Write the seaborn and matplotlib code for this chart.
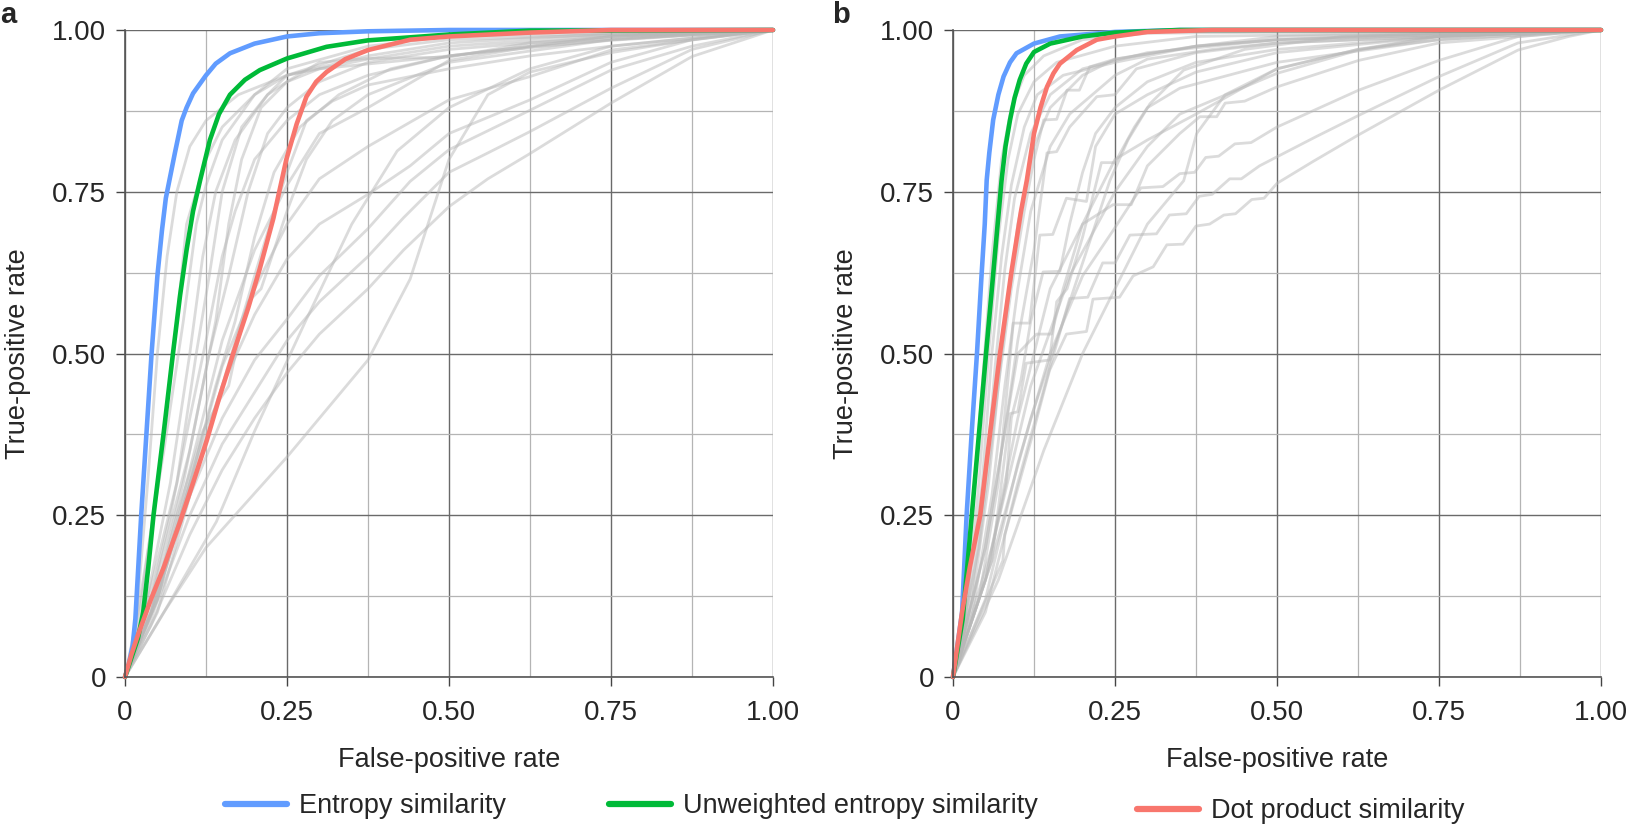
import numpy as np
import pandas as pd
import matplotlib
matplotlib.use("Agg")
import matplotlib.pyplot as plt
from matplotlib.lines import Line2D
import seaborn as sns

# ---- data (fpr, tpr) ----
methods = ["Entropy similarity", "Unweighted entropy similarity", "Dot product similarity"]
method_colors = ["#619CFF", "#00BA38", "#F8766D"]

# panel a, highlighted curves
entropy_a_fpr = [0, 0.006, 0.012, 0.016, 0.025, 0.033, 0.041, 0.05, 0.057, 0.063, 0.069, 0.077, 0.0875, 0.095, 0.105, 0.125, 0.14, 0.162, 0.2, 0.25, 0.3, 0.375, 0.5, 1.0]
entropy_a_tpr = [0, 0.02, 0.05, 0.09, 0.25, 0.375, 0.5, 0.62, 0.69, 0.74, 0.77, 0.81, 0.86, 0.88, 0.902, 0.93, 0.948, 0.964, 0.979, 0.99, 0.995, 0.998, 1.0, 1.0]
unweighted_a_fpr = [0, 0.01, 0.02, 0.028, 0.036, 0.044, 0.06, 0.074, 0.085, 0.095, 0.105, 0.116, 0.131, 0.145, 0.162, 0.185, 0.208, 0.25, 0.311, 0.375, 0.5, 0.625, 1.0]
unweighted_a_tpr = [0, 0.03, 0.06, 0.1, 0.17, 0.25, 0.38, 0.5, 0.59, 0.66, 0.72, 0.768, 0.83, 0.87, 0.9, 0.923, 0.938, 0.956, 0.974, 0.984, 0.993, 0.999, 1.0]
dot_a_fpr = [0, 0.01, 0.02, 0.04, 0.06, 0.085, 0.105, 0.126, 0.145, 0.167, 0.19, 0.208, 0.229, 0.249, 0.265, 0.28, 0.295, 0.311, 0.34, 0.375, 0.44, 0.5, 0.625, 0.75, 1.0]
dot_a_tpr = [0, 0.035, 0.065, 0.12, 0.17, 0.24, 0.3, 0.365, 0.43, 0.5, 0.57, 0.631, 0.709, 0.8, 0.855, 0.897, 0.92, 0.935, 0.955, 0.969, 0.985, 0.99, 0.996, 1.0, 1.0]

# panel b, highlighted curves
entropy_b_fpr = [0, 0.014, 0.021, 0.029, 0.037, 0.044, 0.049, 0.052, 0.056, 0.062, 0.07, 0.078, 0.088, 0.098, 0.125, 0.165, 0.25, 0.35, 1.0]
entropy_b_tpr = [0, 0.1, 0.25, 0.38, 0.5, 0.62, 0.7, 0.768, 0.81, 0.861, 0.9, 0.928, 0.95, 0.964, 0.979, 0.99, 0.997, 1.0, 1.0]
unweighted_b_fpr = [0, 0.015, 0.029, 0.04, 0.051, 0.06, 0.068, 0.075, 0.081, 0.088, 0.095, 0.103, 0.113, 0.125, 0.15, 0.2, 0.25, 0.35, 1.0]
unweighted_b_tpr = [0, 0.09, 0.25, 0.375, 0.5, 0.6, 0.69, 0.768, 0.82, 0.861, 0.895, 0.923, 0.948, 0.966, 0.979, 0.99, 0.996, 1.0, 1.0]
dot_b_fpr = [0, 0.014, 0.026, 0.042, 0.057, 0.0725, 0.09, 0.105, 0.114, 0.125, 0.135, 0.145, 0.155, 0.165, 0.191, 0.222, 0.25, 0.3, 0.4, 1.0]
dot_b_tpr = [0, 0.1, 0.17, 0.25, 0.375, 0.5, 0.625, 0.72, 0.768, 0.84, 0.88, 0.912, 0.933, 0.948, 0.969, 0.985, 0.99, 0.997, 1.0, 1.0]

# other similarity measures (grey), panel a
grey_a = [
    [(0, 0), (0.015, 0.06), (0.035, 0.3), (0.05, 0.5), (0.065, 0.65), (0.08, 0.75), (0.1, 0.82), (0.125, 0.86), (0.175, 0.9), (0.25, 0.93), (0.375, 0.955), (0.5, 0.975), (0.75, 0.992), (1, 1)],
    [(0, 0), (0.02, 0.08), (0.05, 0.3), (0.075, 0.5), (0.095, 0.7), (0.125, 0.8), (0.15, 0.85), (0.2, 0.9), (0.25, 0.93), (0.375, 0.96), (0.5, 0.98), (0.75, 0.995), (1, 1)],
    [(0, 0), (0.02, 0.1), (0.06, 0.35), (0.09, 0.55), (0.11, 0.7), (0.125, 0.76), (0.15, 0.83), (0.2, 0.9), (0.25, 0.94), (0.375, 0.975), (0.5, 0.99), (1, 1)],
    [(0, 0), (0.03, 0.1), (0.07, 0.3), (0.1, 0.5), (0.12, 0.65), (0.14, 0.75), (0.17, 0.83), (0.22, 0.9), (0.25, 0.92), (0.3, 0.94), (0.5, 0.96), (0.75, 0.985), (1, 1)],
    [(0, 0), (0.03, 0.1), (0.08, 0.3), (0.11, 0.5), (0.13, 0.62), (0.15, 0.75), (0.18, 0.85), (0.22, 0.9), (0.25, 0.93), (0.375, 0.97), (0.5, 0.985), (1, 1)],
    [(0, 0), (0.04, 0.1), (0.09, 0.3), (0.12, 0.45), (0.14, 0.55), (0.16, 0.7), (0.18, 0.8), (0.21, 0.88), (0.25, 0.92), (0.3, 0.95), (0.375, 0.956), (0.5, 0.958), (0.625, 0.98), (1, 1)],
    [(0, 0), (0.04, 0.12), (0.1, 0.35), (0.13, 0.5), (0.16, 0.62), (0.19, 0.75), (0.22, 0.84), (0.25, 0.88), (0.3, 0.92), (0.375, 0.95), (0.5, 0.97), (0.75, 0.99), (1, 1)],
    [(0, 0), (0.05, 0.12), (0.1, 0.3), (0.14, 0.45), (0.17, 0.55), (0.2, 0.68), (0.23, 0.78), (0.27, 0.85), (0.33, 0.9), (0.41, 0.94), (0.5, 0.96), (0.75, 0.99), (1, 1)],
    [(0, 0), (0.04, 0.1), (0.08, 0.25), (0.12, 0.38), (0.147, 0.43), (0.16, 0.45), (0.175, 0.52), (0.19, 0.58), (0.21, 0.6), (0.23, 0.66), (0.25, 0.72), (0.28, 0.8), (0.32, 0.86), (0.375, 0.9), (0.5, 0.95), (0.75, 0.985), (1, 1)],
    [(0, 0), (0.03, 0.08), (0.07, 0.25), (0.1, 0.4), (0.125, 0.52), (0.15, 0.65), (0.17, 0.72), (0.2, 0.8), (0.25, 0.86), (0.3, 0.9), (0.375, 0.93), (0.5, 0.96), (0.75, 0.99), (1, 1)],
    [(0, 0), (0.05, 0.1), (0.1, 0.28), (0.15, 0.45), (0.2, 0.62), (0.23, 0.72), (0.25, 0.78), (0.28, 0.86), (0.32, 0.89), (0.375, 0.915), (0.5, 0.94), (0.625, 0.96), (0.75, 0.975), (1, 1)],
    [(0, 0), (0.04, 0.08), (0.1, 0.22), (0.15, 0.32), (0.2, 0.4), (0.25, 0.47), (0.3, 0.53), (0.375, 0.6), (0.43, 0.66), (0.5, 0.727), (0.56, 0.77), (0.625, 0.809), (0.75, 0.887), (0.875, 0.959), (1, 1)],
    [(0, 0), (0.04, 0.09), (0.1, 0.25), (0.15, 0.36), (0.2, 0.44), (0.25, 0.52), (0.3, 0.58), (0.375, 0.65), (0.43, 0.71), (0.5, 0.78), (0.56, 0.81), (0.625, 0.843), (0.75, 0.91), (0.875, 0.97), (1, 1)],
    [(0, 0), (0.04, 0.1), (0.1, 0.28), (0.15, 0.4), (0.2, 0.49), (0.25, 0.553), (0.3, 0.62), (0.375, 0.693), (0.44, 0.766), (0.5, 0.815), (0.625, 0.876), (0.75, 0.938), (0.875, 0.975), (1, 1)],
    [(0, 0), (0.04, 0.1), (0.1, 0.3), (0.15, 0.45), (0.2, 0.56), (0.25, 0.646), (0.3, 0.7), (0.375, 0.746), (0.44, 0.79), (0.5, 0.84), (0.625, 0.892), (0.75, 0.95), (0.875, 0.985), (1, 1)],
    [(0, 0), (0.05, 0.12), (0.1, 0.3), (0.15, 0.48), (0.2, 0.6), (0.25, 0.7), (0.3, 0.77), (0.375, 0.82), (0.5, 0.892), (0.625, 0.928), (0.75, 0.969), (1, 1)],
    [(0, 0), (0.05, 0.12), (0.1, 0.32), (0.15, 0.52), (0.2, 0.66), (0.25, 0.76), (0.3, 0.84), (0.375, 0.88), (0.5, 0.953), (0.625, 0.974), (0.75, 0.984), (1, 1)],
    [(0, 0), (0.06, 0.1), (0.125, 0.2), (0.25, 0.34), (0.375, 0.49), (0.44, 0.615), (0.5, 0.8), (0.56, 0.9), (0.625, 0.935), (0.75, 0.965), (0.875, 0.985), (1, 1)],
    [(0, 0), (0.06, 0.1), (0.141, 0.24), (0.2, 0.38), (0.28, 0.553), (0.35, 0.7), (0.42, 0.813), (0.5, 0.88), (0.625, 0.94), (0.75, 0.975), (1, 1)],
]

# other similarity measures (grey), panel b
grey_b = [
    [(0, 0), (0.015, 0.08), (0.03, 0.25), (0.045, 0.45), (0.06, 0.65), (0.075, 0.8), (0.09, 0.88), (0.11, 0.93), (0.14, 0.96), (0.2, 0.985), (0.3, 0.995), (1, 1)],
    [(0, 0), (0.02, 0.1), (0.04, 0.3), (0.055, 0.5), (0.07, 0.68), (0.085, 0.8), (0.1, 0.87), (0.125, 0.92), (0.16, 0.95), (0.25, 0.975), (0.375, 0.99), (1, 1)],
    [(0, 0), (0.02, 0.09), (0.045, 0.3), (0.06, 0.5), (0.075, 0.65), (0.09, 0.76), (0.11, 0.85), (0.13, 0.9), (0.17, 0.93), (0.25, 0.95), (0.375, 0.975), (0.5, 0.99), (1, 1)],
    [(0, 0), (0.025, 0.1), (0.05, 0.3), (0.065, 0.48), (0.08, 0.63), (0.095, 0.74), (0.12, 0.84), (0.15, 0.9), (0.2, 0.94), (0.3, 0.965), (0.5, 0.985), (1, 1)],
    [(0, 0), (0.03, 0.12), (0.055, 0.3), (0.075, 0.5), (0.1, 0.7), (0.125, 0.82), (0.15, 0.88), (0.2, 0.93), (0.25, 0.955), (0.375, 0.975), (0.5, 0.985), (0.75, 0.995), (1, 1)],
    [(0, 0), (0.03, 0.1), (0.06, 0.28), (0.08, 0.45), (0.1, 0.6), (0.12, 0.72), (0.15, 0.82), (0.18, 0.87), (0.25, 0.93), (0.3, 0.955), (0.4, 0.97), (0.5, 0.98), (1, 1)],
    [(0, 0), (0.05, 0.15), (0.082, 0.3), (0.09, 0.4), (0.105, 0.46), (0.12, 0.55), (0.139, 0.626), (0.165, 0.627), (0.18, 0.7), (0.2, 0.78), (0.22, 0.84), (0.25, 0.88), (0.3, 0.92), (0.375, 0.95), (0.5, 0.97), (0.75, 0.99), (1, 1)],
    [(0, 0), (0.04, 0.12), (0.07, 0.3), (0.093, 0.547), (0.118, 0.547), (0.134, 0.683), (0.154, 0.684), (0.175, 0.74), (0.206, 0.735), (0.22, 0.82), (0.25, 0.87), (0.3, 0.9), (0.375, 0.935), (0.5, 0.965), (0.75, 0.99), (1, 1)],
    [(0, 0), (0.06, 0.18), (0.088, 0.407), (0.1, 0.41), (0.113, 0.485), (0.149, 0.49), (0.16, 0.58), (0.176, 0.6), (0.2, 0.68), (0.229, 0.795), (0.25, 0.795), (0.28, 0.85), (0.3, 0.88), (0.35, 0.91), (0.5, 0.95), (0.75, 0.985), (1, 1)],
    [(0, 0), (0.05, 0.2), (0.08, 0.38), (0.1, 0.5), (0.129, 0.53), (0.152, 0.53), (0.17, 0.6), (0.2, 0.7), (0.23, 0.76), (0.25, 0.8), (0.3, 0.83), (0.375, 0.87), (0.5, 0.94), (0.625, 0.97), (0.75, 0.985), (1, 1)],
    [(0, 0), (0.04, 0.2), (0.07, 0.45), (0.09, 0.6), (0.11, 0.72), (0.125, 0.8), (0.14, 0.861), (0.16, 0.862), (0.176, 0.907), (0.195, 0.907), (0.211, 0.943), (0.25, 0.955), (0.375, 0.975), (0.5, 0.985), (1, 1)],
    [(0, 0), (0.05, 0.2), (0.08, 0.38), (0.1, 0.52), (0.125, 0.66), (0.145, 0.81), (0.16, 0.812), (0.18, 0.85), (0.222, 0.897), (0.25, 0.9), (0.283, 0.94), (0.375, 0.965), (0.5, 0.98), (1, 1)],
    [(0, 0), (0.06, 0.18), (0.12, 0.4), (0.17, 0.55), (0.21, 0.67), (0.242, 0.767), (0.27, 0.83), (0.304, 0.886), (0.356, 0.938), (0.45, 0.97), (0.6, 0.99), (1, 1)],
    [(0, 0), (0.07, 0.15), (0.14, 0.35), (0.2, 0.5), (0.25, 0.6), (0.3, 0.7), (0.356, 0.767), (0.376, 0.84), (0.42, 0.9), (0.5, 0.94), (0.625, 0.97), (0.75, 0.99), (1, 1)],
    [(0, 0), (0.077, 0.18), (0.08, 0.22), (0.123, 0.375), (0.149, 0.474), (0.175, 0.53), (0.206, 0.534), (0.216, 0.584), (0.257, 0.587), (0.278, 0.62), (0.309, 0.634), (0.33, 0.668), (0.355, 0.669), (0.375, 0.697), (0.396, 0.7), (0.418, 0.714), (0.436, 0.716), (0.461, 0.738), (0.48, 0.74), (0.5, 0.763), (0.556, 0.797), (0.626, 0.838), (0.75, 0.907), (0.872, 0.969), (0.95, 0.99), (1, 1)],
    [(0, 0), (0.05, 0.1), (0.1, 0.3), (0.15, 0.48), (0.18, 0.585), (0.208, 0.587), (0.231, 0.64), (0.25, 0.64), (0.273, 0.683), (0.314, 0.685), (0.334, 0.714), (0.36, 0.716), (0.38, 0.743), (0.4, 0.746), (0.427, 0.77), (0.445, 0.77), (0.473, 0.79), (0.5, 0.804), (0.56, 0.835), (0.626, 0.868), (0.75, 0.928), (0.872, 0.98), (1, 1)],
    [(0, 0), (0.05, 0.12), (0.1, 0.33), (0.15, 0.5), (0.2, 0.62), (0.247, 0.69), (0.29, 0.756), (0.324, 0.758), (0.35, 0.778), (0.373, 0.78), (0.39, 0.803), (0.41, 0.805), (0.435, 0.824), (0.46, 0.826), (0.5, 0.85), (0.626, 0.907), (0.75, 0.953), (0.872, 0.99), (1, 1)],
    [(0, 0), (0.05, 0.15), (0.1, 0.4), (0.15, 0.6), (0.2, 0.7), (0.247, 0.73), (0.275, 0.73), (0.3, 0.79), (0.35, 0.84), (0.381, 0.866), (0.407, 0.866), (0.42, 0.887), (0.45, 0.89), (0.5, 0.912), (0.626, 0.953), (0.75, 0.98), (1, 1)],
    [(0, 0), (0.06, 0.2), (0.12, 0.45), (0.18, 0.62), (0.25, 0.75), (0.3, 0.82), (0.35, 0.87), (0.5, 0.933), (0.626, 0.969), (0.75, 0.99), (1, 1)],
]

tick_values = [0, 0.25, 0.5, 0.75, 1.0]
tick_labels = ["0", "0.25", "0.50", "0.75", "1.00"]


def grey_frame(curves):
    rows = [(i, x, y) for i, c in enumerate(curves) for x, y in c]
    return pd.DataFrame(rows, columns=["curve", "fpr", "tpr"])


def main_frame(fprs, tprs):
    parts = [pd.DataFrame({"method": m, "fpr": f, "tpr": t}) for m, f, t in zip(methods, fprs, tprs)]
    return pd.concat(parts, ignore_index=True)


sns.set_style("white")
plt.rcParams["font.family"] = ["Liberation Sans", "DejaVu Sans"]

fig = plt.figure(figsize=(16.27, 8.27), dpi=100)
ax_a = fig.add_axes([125 / 1627, 1 - 677 / 827, 648 / 1627, 647 / 827])
ax_b = fig.add_axes([953 / 1627, 1 - 677 / 827, 648 / 1627, 647 / 827])

panels = [
    (ax_a, grey_a, [entropy_a_fpr, unweighted_a_fpr, dot_a_fpr], [entropy_a_tpr, unweighted_a_tpr, dot_a_tpr]),
    (ax_b, grey_b, [entropy_b_fpr, unweighted_b_fpr, dot_b_fpr], [entropy_b_tpr, unweighted_b_tpr, dot_b_tpr]),
]

for ax, grey, fprs, tprs in panels:
    ax.set_axisbelow(True)
    sns.lineplot(data=grey_frame(grey), x="fpr", y="tpr", units="curve", estimator=None,
                 sort=False, color="#b8b8b8", alpha=0.5, lw=2.0, ax=ax, legend=False)
    sns.lineplot(data=main_frame(fprs, tprs), x="fpr", y="tpr", hue="method", hue_order=methods,
                 palette=method_colors, estimator=None, sort=False, lw=3.3, ax=ax, legend=False)
    for ln in ax.lines:
        ln.set_clip_on(False)
        ln.set_solid_joinstyle("round")

    ax.set_xlim(0, 1)
    ax.set_ylim(0, 1)
    ax.set_xticks(tick_values)
    ax.set_xticklabels(tick_labels)
    ax.set_yticks(tick_values)
    ax.set_yticklabels(tick_labels)
    ax.set_xticks(np.arange(0.125, 1, 0.25), minor=True)
    ax.set_yticks(np.arange(0.125, 1, 0.25), minor=True)
    ax.grid(which="major", color="#6a6a6a", lw=1.0)
    ax.grid(which="minor", color="#b4b4b4", lw=0.9)
    for side in ["top", "right"]:
        ax.spines[side].set_visible(False)
    for side in ["left", "bottom"]:
        ax.spines[side].set_color("#555555")
        ax.spines[side].set_linewidth(1.2)
    ax.tick_params(which="major", direction="out", length=6.5, width=1, color="#444444",
                   labelsize=20, left=True, bottom=True)
    ax.tick_params(axis="y", pad=7)
    ax.tick_params(axis="x", pad=10)
    ax.tick_params(which="minor", length=0)
    ax.set_xlabel("False-positive rate", fontsize=19.5, labelpad=15)
    ax.set_ylabel("True-positive rate", fontsize=19.5, labelpad=15)

fig.text(0.0, 1 - 23 / 827, "a", fontsize=21, fontweight="bold", va="baseline")
fig.text(832 / 1627, 1 - 23 / 827, "b", fontsize=21, fontweight="bold", va="baseline")

# legend entries sit at slightly different places in the reference
legend_x = [225, 609, 1137]
legend_y = [806, 806, 811]
for m, c, lx, ly in zip(methods, method_colors, legend_x, legend_y):
    fig.legend([Line2D([], [], color=c, lw=4.5)], [m], loc="center left",
               bbox_to_anchor=(lx / 1627, 1 - ly / 827), frameon=False, fontsize=19.5,
               handlelength=2.3, handletextpad=0.45, borderpad=0, borderaxespad=0)

fig.savefig("out.png", dpi=100)
